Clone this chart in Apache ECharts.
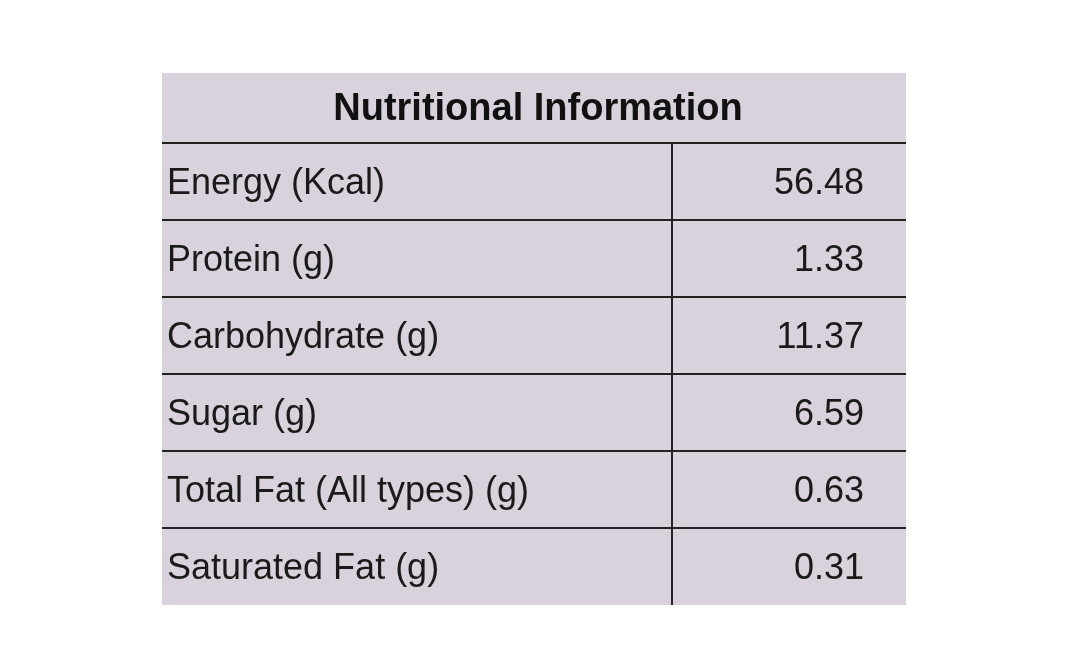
<!DOCTYPE html>
<html>
<head>
<meta charset="utf-8">
<script src="https://cdn.jsdelivr.net/npm/echarts@6/dist/echarts.min.js"></script>
<style>html,body{margin:0;background:#fff}#main{width:1068px;height:671px}</style>
</head>
<body>
<div id="main"></div>
<script>
const title = 'Nutritional Information'
const nutrients = ['Energy (Kcal)', 'Protein (g)', 'Carbohydrate (g)', 'Sugar (g)', 'Total Fat (All types) (g)', 'Saturated Fat (g)']
const amounts = ['56.48', '1.33', '11.37', '6.59', '0.63', '0.31']

const chart = echarts.init(document.getElementById('main'))
const boxLeft = 162, boxRight = 906, boxTop = 73, headH = 70, rowH = 77, split = 672
const boxBottom = boxTop + headH + rowH * nutrients.length

const font = '"Liberation Sans", Arial, sans-serif'
let els = [
  { type: 'rect', shape: { x: boxLeft, y: boxTop, width: boxRight - boxLeft, height: boxBottom - boxTop }, style: { fill: '#d9d1dc' } },
  { type: 'text', x: (boxLeft + boxRight) / 2 + 4, y: boxTop + headH / 2 + 2, style: { text: title, font: 'bold 38px ' + font, fill: '#111', align: 'center', verticalAlign: 'middle' } },
  { type: 'line', shape: { x1: split, y1: boxTop + headH, x2: split, y2: boxBottom }, style: { stroke: '#222', lineWidth: 2 } }
]
nutrients.forEach((n, i) => {
  const y = boxTop + headH + i * rowH
  els.push({ type: 'line', shape: { x1: boxLeft, y1: y, x2: boxRight, y2: y }, style: { stroke: '#222', lineWidth: 2 } })
  els.push({ type: 'text', x: 167, y: y + rowH / 2 + 3, style: { text: n, font: '36px ' + font, fill: '#1a1a1a', verticalAlign: 'middle' } })
  els.push({ type: 'text', x: 864, y: y + rowH / 2 + 3, style: { text: amounts[i], font: '36px ' + font, fill: '#1a1a1a', align: 'right', verticalAlign: 'middle' } })
})
chart.setOption({ graphic: { elements: els } })
</script>
</body>
</html>
